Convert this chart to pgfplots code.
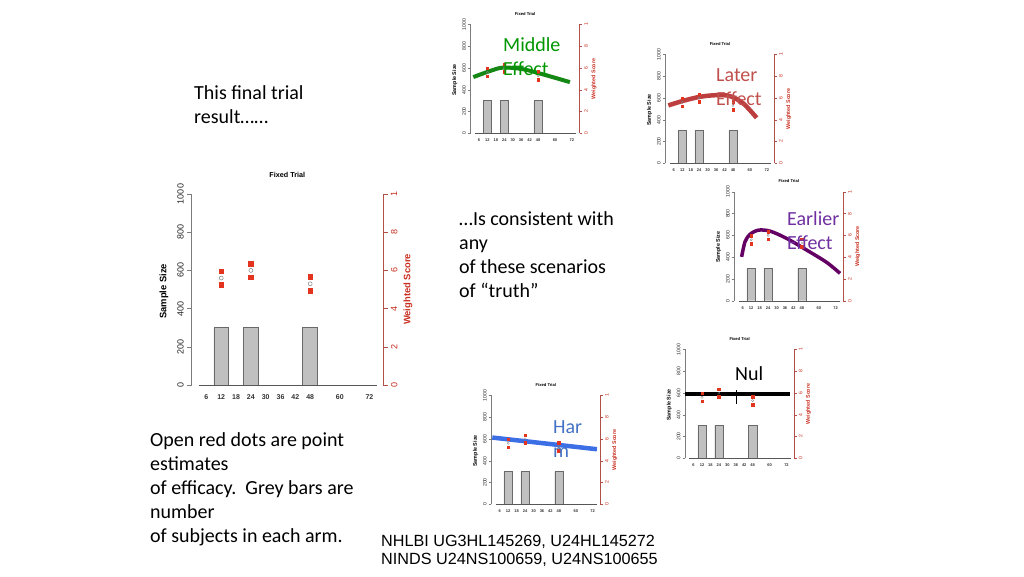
\documentclass[border=0pt]{standalone}
\usepackage{pgfplots}
\usepackage{pgfplotstable}
\pgfplotsset{compat=1.18}
\usepackage{graphicx}
\usepackage{fontspec}
\setmainfont{Carlito}
\newfontfamily\rfont{Liberation Sans}
\definecolor{axred}{RGB}{178,80,72}
\definecolor{txtred}{RGB}{200,45,30}
\definecolor{ptred}{RGB}{226,52,30}
\definecolor{bargray}{RGB}{192,192,192}
\definecolor{bardraw}{RGB}{105,105,105}
\definecolor{axgray}{RGB}{125,125,125}
\definecolor{cgreen}{RGB}{20,135,20}
\definecolor{tgreen}{RGB}{0,150,0}
\definecolor{cred}{RGB}{188,62,62}
\definecolor{tred}{RGB}{192,80,77}
\definecolor{cpurple}{RGB}{100,0,100}
\definecolor{tpurple}{RGB}{112,48,160}
\definecolor{cblue}{RGB}{60,110,230}
\definecolor{tblue}{RGB}{68,114,196}

\pgfplotstableread{
m n
12 300
24 300
48 300
}\bars
\pgfplotstableread{
m lo hi est
12 5.25 5.97 5.60
24 5.65 6.35 6.00
48 4.94 5.67 5.30
}\scores

\newcommand\fs[1]{\fontsize{#1pt}{#1pt}\selectfont}

\newcommand\rchart[4]{%
  \pgfmathsetmacro\S{#3}%
  \pgfmathsetlengthmacro\W{191.4pt*#3}%
  \pgfmathsetlengthmacro\H{191pt*#3}%
  \pgfmathsetmacro\Y{576-#2}%
  \pgfmathsetmacro\fT{9*#3}%
  \pgfmathsetmacro\fX{7*#3}%
  \pgfmathsetmacro\fL{9.4*#3}%
  \pgfmathsetmacro\fTi{7.2*#3}%
  \pgfmathsetlengthmacro\TL{4.5pt*#3}%
  \pgfmathsetlengthmacro\LS{3.3pt*#3}%
  \pgfmathsetlengthmacro\XS{-8pt*#3}%
  \pgfmathsetmacro\MS{2.2*#3}%
  \pgfmathsetmacro\CS{2.0*#3}%
  \begin{axis}[
    /pgf/number format/assume math mode=true,
    /pgf/number format/1000 sep={},
    scale only axis, width=\W, height=\H,
    at={(#1pt,\Y pt)}, anchor=south west,
    xmin=0, xmax=77.5, ymin=0, ymax=1000,
    clip=false,
    axis x line*=bottom, axis y line*=left,
    x axis line style={draw=none},
    y axis line style={draw=axgray, line width=0.6pt*\S},
    xtick={6,12,18,24,30,36,42,48,60,72},
    ytick={0,200,400,600,800,1000},
    tick align=outside, major tick length=\TL,
    xtick style={draw=none},
    ytick style={draw=axgray, line width=0.6pt*\S},
    xticklabel style={font=\rfont\bfseries\fs{\fX}, anchor=center, yshift=\XS, text=black!80},
    yticklabel style={font=\rfont\fs{\fT}, rotate=90, anchor=south, inner sep=0pt, text=black!85},
    yticklabel shift=\LS,
    ylabel={Sample Size},
    every axis y label/.style={at={(axis description cs:-0.145,0.49)}, rotate=90, anchor=center, font=\rfont\bfseries\fs{\fL}},
    title={Fixed Trial},
    every axis title/.style={at={(axis description cs:0.5,1.1)}, anchor=center, font=\rfont\bfseries\fs{\fTi}},
  ]
    \addplot[ybar, bar width=6, fill=bargray, draw=bardraw, line width=0.5pt*\S] table[x=m,y=n]{\bars};
    \draw[axgray!70!black, line width=0.6pt*\S] (axis cs:3,0) -- (axis cs:75,0);
  \end{axis}
  \begin{axis}[
    /pgf/number format/assume math mode=true,
    scale only axis, width=\W, height=\H,
    at={(#1pt,\Y pt)}, anchor=south west,
    xmin=0, xmax=77.5, ymin=0, ymax=10,
    clip=false,
    axis x line=none, axis y line*=right,
    y axis line style={draw=axred, line width=0.6pt*\S},
    ytick={0,2,4,6,8,10}, yticklabels={0,2,4,6,8,1},
    tick align=outside, major tick length=\TL,
    ytick style={draw=axred, line width=0.6pt*\S},
    yticklabel style={font=\rfont\fs{\fT}, rotate=90, anchor=north, inner sep=0pt, text=txtred},
    yticklabel shift=\LS,
    ylabel={Weighted Score},
    every axis y label/.style={at={(axis description cs:1.131,0.5)}, rotate=90, anchor=center, font=\rfont\bfseries\fs{\fL}, text=txtred},
  ]
    \addplot[only marks, mark=square*, mark size=\MS, color=ptred] table[x=m,y=hi]{\scores};
    \addplot[only marks, mark=square*, mark size=\MS, color=ptred] table[x=m,y=lo]{\scores};
    \addplot[only marks, mark=o, mark size=\CS, color=gray, mark options={fill=white, line width=0.5pt*\S}] table[x=m,y=est]{\scores};
    #4
  \end{axis}
}

\begin{document}
\begin{tikzpicture}
\path[use as bounding box] (0,0) rectangle (1024pt,576pt);

% main chart
\rchart{191.6}{385}{1}{}

% Middle effect
\rchart{470.5}{133.3}{0.57}{%
  \addplot[cgreen, line width=4pt, smooth] coordinates {(2,5.16) (13.8,5.72) (23.3,6.04) (37.5,5.88) (54,5.32) (70.6,4.70)};}
% Later effect
\rchart{665.4}{163.3}{0.57}{%
  \addplot[cred, line width=4.5pt, smooth] coordinates {(2.1,5.32) (12.7,5.74) (24.6,6.11) (36.4,6.26) (45.9,6.17) (55.3,5.50) (64.8,4.18)};}
% Earlier effect
\rchart{734.3}{300.7}{0.57}{%
  \addplot[cpurple, line width=3.5pt, smooth] coordinates {(5.2,4.03) (7.6,5.41) (11.1,6.09) (17.1,6.48) (25.4,6.39) (37.2,5.72) (51.4,4.65) (65.6,3.52) (75.1,2.51)};}
% Null
\rchart{685.1}{458.3}{0.57}{%
  \addplot[black, line width=4pt] coordinates {(0,5.95) (74.5,5.95)};
  \addplot[black, line width=1.5pt] coordinates {(36.6,5.0) (36.6,6.3)};}
% Harm
\rchart{491.3}{504.3}{0.57}{%
  \addplot[cblue, line width=4.5pt] coordinates {(0.7,6.13) (75,5.06)};}

% slide text
\begin{scope}[every node/.style={anchor=base west, inner sep=0pt, font=\fs{20}}]
\node at (194pt,476pt) {This final trial};
\node at (194pt,452pt) {result……};
\node at (459pt,350pt) {…Is consistent with};
\node at (459pt,326pt) {any};
\node at (459pt,302pt) {of these scenarios};
\node at (459pt,278pt) {of “truth”};
\node at (150pt,130pt) {Open red dots are point};
\node at (150pt,106pt) {estimates};
\node at (150pt,82pt) {of efficacy.\ \ Grey bars are};
\node at (150pt,58pt) {number};
\node at (150pt,34pt) {of subjects in each arm.};
\node[text=tgreen] at (503pt,524pt) {Middle};
\node[text=tgreen] at (503pt,500pt) {Effect};
\node[text=tred] at (716pt,494pt) {Later};
\node[text=tred] at (716pt,470pt) {Effect};
\node[text=tpurple] at (787pt,350pt) {Earlier};
\node[text=tpurple] at (787pt,326pt) {Effect};
\node at (735pt,196pt) {Nul};
\node[text=tblue] at (553pt,143pt) {Har};
\node[text=tblue] at (553pt,119pt) {m};
\node[font=\rfont\fs{16.2}] at (381pt,30pt) {NHLBI UG3HL145269, U24HL145272};
\node[font=\rfont\fs{16.2}] at (381pt,12pt) {NINDS U24NS100659, U24NS100655};
\end{scope}
\end{tikzpicture}
\end{document}
